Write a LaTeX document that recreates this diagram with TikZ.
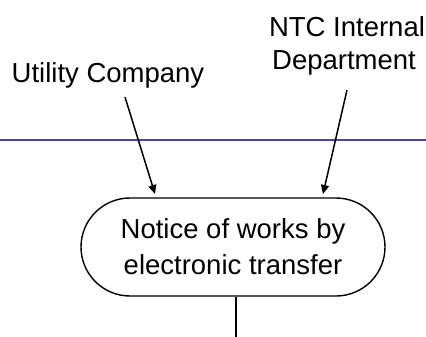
\documentclass[tikz,border=0pt]{standalone}
\usepackage{fontspec}
\setmainfont{Liberation Sans}
\usetikzlibrary{arrows.meta}
\definecolor{laneblue}{RGB}{70,70,175}
\begin{document}
\begin{tikzpicture}[x=1pt,y=-1pt,
  lbl/.style={font=\fontsize{27.5}{33}\selectfont, inner sep=0pt, anchor=base},
  proc/.style={draw, line width=1.4pt, rounded corners=49pt, minimum width=304pt,
    minimum height=98pt, inner sep=0pt, align=center,
    font=\fontsize{27.5}{36}\selectfont},
  flow/.style={line width=1.5pt, -{Triangle[length=9pt,width=8pt]}}]
\useasboundingbox (0,0) rectangle (426,337);
% swimlane divider
\draw[laneblue, line width=1.2pt] (0,140) -- (426,140);
% actors
\node[lbl] (util) at (108,83) {Utility Company};
\node[lbl] (ntc1) at (347,37) {NTC Internal};
\node[lbl] (ntc2) at (344,70) {Department};
% process
\node[proc] (notice) at (233,247) {Notice of works by\\electronic transfer};
\coordinate (out) at (235.7,337);
\coordinate (ua) at (125,97);
\coordinate (na) at (347,90);
\draw[flow] (ua) -- (155,194);
\draw[flow] (na) -- (323,194);
\draw[line width=2pt] (out |- notice.south) -- (out);
\end{tikzpicture}
\end{document}
